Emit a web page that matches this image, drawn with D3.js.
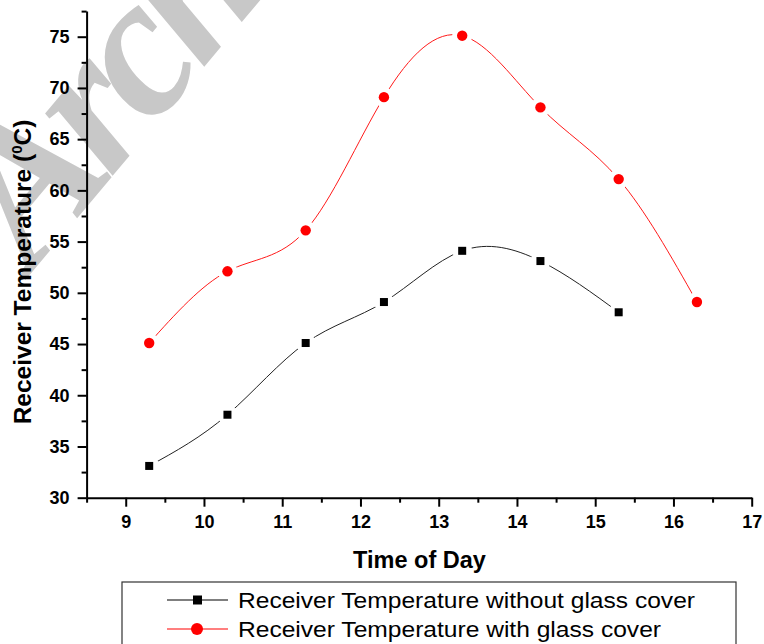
<!DOCTYPE html>
<html><head><meta charset="utf-8">
<script src="https://cdn.jsdelivr.net/npm/d3@7"></script>
<style>body{margin:0;background:#fff}svg{display:block}</style>
</head><body>
<svg id="c" width="764" height="644"></svg>
<script>
const timesNoCover = [9.3, 10.3, 11.3, 12.3, 13.3, 14.3, 15.3];
const tempNoCover  = [33.1, 38.1, 45.1, 49.1, 54.1, 53.1, 48.1];
const timesCover   = [9.3, 10.3, 11.3, 12.3, 13.3, 14.3, 15.3, 16.3];
const tempCover    = [45.1, 52.1, 56.1, 69.1, 75.1, 68.1, 61.1, 49.1];
const xTicks = [9, 10, 11, 12, 13, 14, 15, 16, 17];
const yTicks = [30, 35, 40, 45, 50, 55, 60, 65, 70, 75];
const seriesNames = ["Receiver Temperature without glass cover", "Receiver Temperature with glass cover"];

const svg = d3.select("#c");
const x = d3.scaleLinear().domain([8.5, 17]).range([86.6, 751.7]);
const y = d3.scaleLinear().domain([30, 77.5]).range([497.7, 11.1]);

// watermark
svg.append("text").text("Archive")
  .attr("transform", "translate(32,272) rotate(-50)")
  .attr("font-family", "Liberation Serif").attr("font-weight", "bold").attr("font-style", "italic")
  .attr("font-size", 200).attr("letter-spacing", -12).attr("fill", "#c8c8c8");

const AX = "Liberation Sans, Arial, sans-serif";

// axes
const xMinor = d3.range(8.5, 17.01, 0.5).filter(v => Math.abs(v - Math.round(v)) > 0.01);
const yMinor = d3.range(32.5, 77.6, 5);
svg.append("g").attr("transform", `translate(0,${y(30)})`)
  .call(d3.axisBottom(x).tickValues(xMinor).tickSize(5).tickFormat("").tickSizeOuter(0))
  .call(g => g.select(".domain").remove()).selectAll("line").attr("stroke-width", 2);
svg.append("g").attr("transform", `translate(${x(8.5)},0)`)
  .call(d3.axisLeft(y).tickValues(yMinor).tickSize(5).tickFormat("").tickSizeOuter(0))
  .call(g => g.select(".domain").remove()).selectAll("line").attr("stroke-width", 2);

const gx = svg.append("g").attr("transform", `translate(0,${y(30)})`)
  .call(d3.axisBottom(x).tickValues(xTicks).tickSize(9).tickPadding(9).tickSizeOuter(0).tickFormat(d3.format("d")));
gx.select(".domain").attr("stroke-width", 2);
gx.selectAll("line").attr("stroke-width", 2);
gx.selectAll("text").attr("font-family", AX).attr("font-weight", "bold").attr("font-size", 18);

const gy = svg.append("g").attr("transform", `translate(${x(8.5)},0)`)
  .call(d3.axisLeft(y).tickValues(yTicks).tickSize(9).tickPadding(8).tickSizeOuter(0).tickFormat(d3.format("d")));
gy.select(".domain").attr("stroke-width", 2);
gy.selectAll("line").attr("stroke-width", 2);
gy.selectAll("text").attr("font-family", AX).attr("font-weight", "bold").attr("font-size", 18);

// titles
svg.append("text").attr("x", 419.5).attr("y", 568).attr("text-anchor", "middle")
  .attr("font-family", AX).attr("font-weight", "bold").attr("font-size", 23.5).text("Time of Day");
const yt = svg.append("text").attr("transform", "translate(31,272) rotate(-90)").attr("text-anchor", "middle")
  .attr("font-family", AX).attr("font-weight", "bold").attr("font-size", 24.5);
yt.append("tspan").text("Receiver Temperature (");
yt.append("tspan").attr("dy", -9).attr("font-size", 15).text("0");
yt.append("tspan").attr("dy", 9).text("C)");

// lines
const line = d3.line().x(d => x(d[0])).y(d => y(d[1])).curve(d3.curveNatural);
const dNo = timesNoCover.map((t, i) => [t, tempNoCover[i]]);
const dCo = timesCover.map((t, i) => [t, tempCover[i]]);
svg.append("path").datum(dNo).attr("d", line).attr("fill", "none").attr("stroke", "#222").attr("stroke-width", 1);
svg.append("path").datum(dCo).attr("d", line).attr("fill", "none").attr("stroke", "#ff1a1a").attr("stroke-width", 1);

// gaps + markers
[dNo, dCo].forEach(ds => svg.append("g").selectAll("circle").data(ds).join("circle")
  .attr("cx", d => x(d[0])).attr("cy", d => y(d[1])).attr("r", 10).attr("fill", "#fff"));
svg.append("g").selectAll("rect").data(dNo).join("rect")
  .attr("x", d => x(d[0]) - 4).attr("y", d => y(d[1]) - 4).attr("width", 8).attr("height", 8).attr("fill", "#000");
svg.append("g").selectAll("circle").data(dCo).join("circle")
  .attr("cx", d => x(d[0])).attr("cy", d => y(d[1])).attr("r", 5.2).attr("fill", "#ff0000");

// legend
svg.append("rect").attr("x", 122).attr("y", 582).attr("width", 614).attr("height", 80)
  .attr("fill", "#fff").attr("stroke", "#333").attr("stroke-width", 1.2);
const lg = [
  {name: seriesNames[0], color: "#000", sym: "square", yy: 600, len: 457},
  {name: seriesNames[1], color: "#ff0000", sym: "circle", yy: 629, len: 423}
];
lg.forEach(r => {
  svg.append("line").attr("x1", 167).attr("x2", 228).attr("y1", r.yy).attr("y2", r.yy)
    .attr("stroke", r.color).attr("stroke-width", 1.2);
  if (r.sym === "square") svg.append("rect").attr("x", 193).attr("y", r.yy - 4.5).attr("width", 9).attr("height", 9).attr("fill", r.color);
  else svg.append("circle").attr("cx", 197).attr("cy", r.yy).attr("r", 6).attr("fill", r.color);
  svg.append("text").attr("x", 238).attr("y", r.yy + 8).attr("font-family", AX).attr("font-size", 22.5)
    .attr("textLength", r.len).attr("lengthAdjust", "spacingAndGlyphs").text(r.name);
});
</script>
</body></html>
